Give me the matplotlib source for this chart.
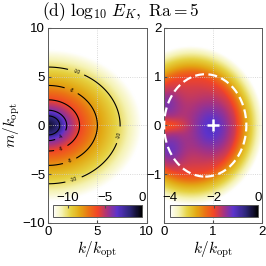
import numpy as np
import matplotlib
matplotlib.use("Agg")
import matplotlib.pyplot as plt
from matplotlib.colors import LinearSegmentedColormap
from matplotlib.patches import Ellipse

plt.rcParams['font.family'] = ['Liberation Sans', 'DejaVu Sans']
plt.rcParams['mathtext.fontset'] = 'cm'

# left panel: log10 E_K along the (k, m/0.82) radius
L_DIST = [0.0, 0.6, 1.2, 1.9, 3.2, 5.0, 7.3, 9.5, 11.0]
L_LEVEL = [-0.5, -1.2, -2.0, -4.0, -6.0, -8.0, -10.0, -12.0, -13.0]
L_MSCALE = 0.82
L_CONTOURS = [-10, -8, -6, -4, -2]

# right panel (zoom): base radial profile about (0.55, 0) + local features
R_CENTER = (0.55, 0.0)
R_SCALE = (1.0, 1.1)
R_DIST = [0.0, 0.4, 0.7, 0.9, 1.0, 1.12, 1.3, 1.55, 2.0]
R_LEVEL = [-1.7, -1.75, -1.85, -2.0, -2.3, -2.8, -3.4, -4.2, -5.0]
# (k, m, amplitude, width_k, width_m)
R_FEATURES = [(1.0, -0.05, 0.7, 0.3, 0.38),
              (0.05, 0.45, 0.5, 0.2, 0.22),
              (0.1, -0.5, 0.6, 0.22, 0.25),
              (0.0, 0.0, -0.5, 0.3, 0.1)]
OPT_POINT = (1.0, 0.0)
ELLIPSE_CENTER = (0.84, 0.0)
ELLIPSE_SIZE = (1.68, 2.1)

cmap = LinearSegmentedColormap.from_list('ek', [
    (0.00, (1.00, 1.00, 1.00)),
    (0.10, (0.96, 0.95, 0.70)),
    (0.20, (0.90, 0.82, 0.25)),
    (0.30, (0.89, 0.66, 0.08)),
    (0.40, (0.92, 0.45, 0.08)),
    (0.50, (0.95, 0.27, 0.15)),
    (0.61, (0.66, 0.20, 0.50)),
    (0.72, (0.36, 0.20, 0.80)),
    (0.86, (0.18, 0.15, 0.48)),
    (1.00, (0.00, 0.00, 0.00))])
cmap.set_under('white')

fig = plt.figure(figsize=(2.66, 2.66), dpi=100)
axL = fig.add_axes([0.180, 0.162, 0.372, 0.733])
axR = fig.add_axes([0.617, 0.162, 0.368, 0.733])

# left field
k = np.linspace(0, 10, 300)
m = np.linspace(-10, 10, 600)
K, M = np.meshgrid(k, m)
D = np.sqrt(K**2 + (M / L_MSCALE)**2)
FL = np.interp(D, L_DIST, L_LEVEL)
axL.imshow(FL, extent=[0, 10, -10, 10], origin='lower', aspect='auto',
           cmap=cmap, vmin=-12, vmax=0, interpolation='bilinear', zorder=0)
cs = axL.contour(K, M, FL, levels=L_CONTOURS, colors='k', linewidths=0.8,
                 linestyles='solid')
axL.clabel(cs, fmt='%d', fontsize=3.5, inline=True,
           manual=[(3, 5.9), (2.7, -5.9), (7.3, -1), (2.5, 3.9), (2.3, -3.9),
                   (1.3, -2.3), (1.2, -0.9)])

# right field
k2 = np.linspace(0, 2, 200)
m2 = np.linspace(-2, 2, 400)
K2, M2 = np.meshgrid(k2, m2)
D2 = np.sqrt(((K2 - R_CENTER[0]) / R_SCALE[0])**2 + ((M2 - R_CENTER[1]) / R_SCALE[1])**2)
FR = np.interp(D2, R_DIST, R_LEVEL)
for kc, mc, amp, wk, wm in R_FEATURES:
    FR = FR + amp * np.exp(-0.5 * (((K2 - kc) / wk)**2 + ((M2 - mc) / wm)**2))
axR.imshow(FR, extent=[0, 2, -2, 2], origin='lower', aspect='auto',
           cmap=cmap, vmin=-4, vmax=0, interpolation='bilinear', zorder=0)
axR.add_patch(Ellipse(ELLIPSE_CENTER, ELLIPSE_SIZE[0], ELLIPSE_SIZE[1], fill=False,
                      ec='white', lw=1.6, ls=(0, (4, 2)), zorder=3))
axR.plot(*OPT_POINT, marker='+', color='white', ms=9, mew=1.8, zorder=4)

for ax, xl, yl, xt, yt in [(axL, (0, 10), (-10, 10), [0, 5, 10], [-10, -5, 0, 5, 10]),
                           (axR, (0, 2), (-2, 2), [0, 1, 2], [-1, 0, 1, 2])]:
    ax.set_xlim(*xl)
    ax.set_ylim(*yl)
    ax.set_xticks(xt)
    ax.set_yticks(yt)
    ax.grid(True, color='0.8', ls=':', lw=0.6)
    ax.tick_params(direction='in', length=2, labelsize=9.5, pad=2, color='0.3')
    for s in ax.spines.values():
        s.set_color('0.35')
        s.set_linewidth(0.7)
    ax.set_xlabel(r'$k/k_{\rm opt}$', fontsize=11, labelpad=1)

axL.set_ylabel(r'$m/k_{\rm opt}$', fontsize=11, labelpad=0)

# inset colorbars
for ax_pos, vmin, ticks in [([0.199, 0.184, 0.335, 0.045], -12, [-10, -5, 0]),
                            ([0.639, 0.184, 0.331, 0.045], -4, [-4, -2, 0])]:
    cax = fig.add_axes(ax_pos)
    sm = plt.cm.ScalarMappable(cmap=cmap, norm=plt.Normalize(vmin, 0))
    cb = fig.colorbar(sm, cax=cax, orientation='horizontal')
    cb.set_ticks(ticks)
    cax.xaxis.set_ticks_position('top')
    cax.tick_params(direction='in', length=2, labelsize=9.5, pad=1, color='0.3')
    cb.outline.set_edgecolor('0.35')
    cb.outline.set_linewidth(0.7)

fig.text(0.455, 0.955, r'$\mathrm{(d)}\ \log_{10}\,E_K,\ \mathrm{Ra} = 5$',
         fontsize=12.5, ha='center', va='center')

fig.savefig('out.png', dpi=100)
